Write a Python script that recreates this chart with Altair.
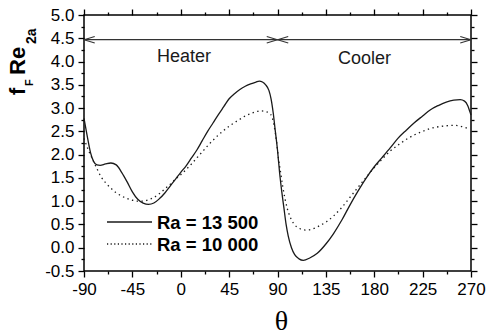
import altair as alt
import pandas as pd

# ---------------- data ----------------
theta_solid = [-90, -87, -84, -81, -78, -75, -70, -65, -60, -55, -50, -45, -40, -35, -30,
               -25, -20, -15, -10, -5, 0, 5, 10, 15, 20, 25, 30, 35, 40, 45, 50, 55, 60,
               65, 70, 73, 76, 79, 82, 84, 86, 88, 90, 92, 94, 96, 98, 100, 103, 106, 110,
               114, 120, 127, 135, 142, 150, 157, 165, 172, 180, 187, 195, 202, 210, 217,
               225, 232, 240, 247, 254, 260, 264, 267, 269, 270]
f_solid = [2.78, 2.4, 2.05, 1.85, 1.78, 1.77, 1.8, 1.82, 1.78, 1.62, 1.42, 1.2, 1.04, 0.96, 0.93,
           0.96, 1.05, 1.17, 1.32, 1.47, 1.62, 1.76, 1.93, 2.1, 2.3, 2.5, 2.68, 2.86, 3.03, 3.2, 3.31, 3.4, 3.47,
           3.52, 3.56, 3.58, 3.56, 3.5, 3.38, 3.2, 2.9, 2.5, 2.1, 1.6, 1.2, 0.85, 0.5, 0.25, 0.0, -0.15, -0.24,
           -0.27, -0.22, -0.12, 0.08, 0.3, 0.6, 0.9, 1.22, 1.48, 1.74, 1.93, 2.15, 2.35, 2.53, 2.68,
           2.83, 2.96, 3.06, 3.13, 3.17, 3.18, 3.15, 3.05, 2.92, 2.85]

theta_dotted = [-90, -86, -82, -78, -74, -70, -65, -60, -55, -50, -45, -40, -35, -30, -25, -20,
                -15, -10, -5, 0, 5, 10, 15, 20, 25, 30, 35, 40, 45, 50, 55, 60, 65, 70, 74, 78,
                82, 85, 87, 89, 91, 93, 95, 97, 99, 102, 105, 110, 116, 122, 128, 135, 142, 150,
                158, 165, 172, 180, 188, 195, 203, 210, 217, 225, 232, 240, 247, 254, 260, 265, 268]
f_dotted = [2.35, 2.1, 1.9, 1.7, 1.52, 1.4, 1.28, 1.18, 1.11, 1.06, 1.02, 1.0, 1.0, 1.03, 1.08, 1.16,
            1.26, 1.36, 1.47, 1.57, 1.68, 1.8, 1.93, 2.06, 2.19, 2.31, 2.42, 2.52, 2.61, 2.69, 2.76, 2.83, 2.88, 2.92, 2.94, 2.93,
            2.9, 2.8, 2.6, 2.3, 1.9, 1.6, 1.3, 1.05, 0.85, 0.65, 0.52, 0.42, 0.38, 0.4, 0.46, 0.55, 0.68, 0.87,
            1.1, 1.3, 1.5, 1.72, 1.92, 2.08, 2.22, 2.33, 2.42, 2.5, 2.56, 2.6, 2.62, 2.63, 2.61, 2.58, 2.55]

x_major = [-90, -45, 0, 45, 90, 135, 180, 225, 270]
x_minor = [-67.5, -22.5, 22.5, 67.5, 112.5, 157.5, 202.5, 247.5]
y_major = [-0.5, 0.0, 0.5, 1.0, 1.5, 2.0, 2.5, 3.0, 3.5, 4.0, 4.5, 5.0]
y_minor = [-0.25, 0.25, 0.75, 1.25, 1.75, 2.25, 2.75, 3.25, 3.75, 4.25, 4.75]

legend_labels = ["Ra = 13 500", "Ra = 10 000"]
region_labels = ["Heater", "Cooler"]
region_theta = [3, 171]
region_f = [4.0, 3.95]

arrow_start = [-90, 90]
arrow_end = [90, 270]
arrow_f = [4.47, 4.47]
head_tip = [-90, 90, 90, 270]
head_wing = [-80, 80, 100, 260]

ytitle_parts = ["f", "F", "Re", "2a"]

# ---------------- chart ----------------
FONT = "Liberation Sans"
INK = "#1a1a1a"
xscale = alt.Scale(domain=[-90, 270], nice=False, zero=False)
yscale = alt.Scale(domain=[-0.5, 5.0], nice=False, zero=False)

df_s = pd.DataFrame({"theta": theta_solid, "f": f_solid})
df_d = pd.DataFrame({"theta": theta_dotted, "f": f_dotted})

xlab = "datum.value < 0 ? '-' + format(-datum.value, 'd') : format(datum.value, 'd')"
ylab = "datum.value < 0 ? '-' + format(-datum.value, '.1f') : format(datum.value, '.1f')"


def tick_axis(orient, values, size, labels=False, expr=None, **kw):
    args = dict(orient=orient, values=values, tickSize=size, tickWidth=1.3,
                tickColor="black", domain=False, grid=False, labels=labels,
                title=None)
    if labels:
        args.update(labelExpr=expr, labelFont=FONT, labelFontSize=17,
                    labelColor="black", labelFlush=False, labelOverlap=False)
    args.update(kw)
    return alt.Axis(**args)


solid = alt.Chart(df_s).mark_line(color=INK, strokeWidth=1.3, interpolate="monotone").encode(
    x=alt.X("theta:Q", scale=xscale,
            axis=tick_axis("bottom", x_major, 6, True, xlab, labelPadding=4,
                           title="θ", titleFont="Liberation Serif", titleFontSize=28,
                           titleFontWeight="normal", titleColor="black", titleX=197,
                           titleY=58, titleBaseline="alphabetic", titleAlign="center")),
    y=alt.Y("f:Q", scale=yscale,
            axis=tick_axis("left", y_major, 6, True, ylab, labelPadding=4)),
)

minor1 = alt.Chart(df_s).mark_point(opacity=0).encode(
    x=alt.X("theta:Q", scale=xscale, axis=tick_axis("bottom", x_minor, 3)),
    y=alt.Y("f:Q", scale=yscale, axis=tick_axis("left", y_minor, 3)),
)
major2 = alt.Chart(df_s).mark_point(opacity=0).encode(
    x=alt.X("theta:Q", scale=xscale, axis=tick_axis("top", x_major, 6)),
    y=alt.Y("f:Q", scale=yscale, axis=tick_axis("right", y_major, 6)),
)
minor2 = alt.Chart(df_s).mark_point(opacity=0).encode(
    x=alt.X("theta:Q", scale=xscale, axis=tick_axis("top", x_minor, 3)),
    y=alt.Y("f:Q", scale=yscale, axis=tick_axis("right", y_minor, 3)),
)

dotted = alt.Chart(df_d).mark_line(color=INK, strokeWidth=1.3, strokeDash=[1.4, 3.4],
                                   interpolate="monotone").encode(
    x=alt.X("theta:Q", scale=xscale, axis=None),
    y=alt.Y("f:Q", scale=yscale, axis=None),
)

df_arrow = pd.DataFrame({"x1": arrow_start, "x2": arrow_end, "y": arrow_f})
arrows = alt.Chart(df_arrow).mark_rule(color="#333333", strokeWidth=1.1).encode(
    x=alt.X("x1:Q", scale=xscale, axis=None), x2="x2:Q",
    y=alt.Y("y:Q", scale=yscale, axis=None),
)
df_heads = pd.DataFrame({
    "tip": head_tip * 2, "wing": head_wing * 2,
    "y": [4.47] * 8, "y2": [4.54] * 4 + [4.40] * 4,
})
heads = alt.Chart(df_heads).mark_rule(color="#333333", strokeWidth=1.1).encode(
    x=alt.X("tip:Q", scale=xscale, axis=None), x2="wing:Q",
    y=alt.Y("y:Q", scale=yscale, axis=None), y2="y2:Q",
)

df_reg = pd.DataFrame({"x": region_theta, "y": region_f, "t": region_labels})
regions = alt.Chart(df_reg).mark_text(font=FONT, fontSize=18, color=INK, align="center",
                                      baseline="alphabetic").encode(
    x=alt.X("x:Q", scale=xscale, axis=None),
    y=alt.Y("y:Q", scale=yscale, axis=None),
    text="t:N",
)

one = alt.Data(values=[{}])
leg_solid = alt.Chart(one).mark_rule(color=INK, strokeWidth=1.3).encode(
    x=alt.value(23), x2=alt.value(68), y=alt.value(207))
leg_dot = alt.Chart(one).mark_rule(color=INK, strokeWidth=1.3, strokeDash=[1.2, 2.4]).encode(
    x=alt.value(23), x2=alt.value(68), y=alt.value(229))
leg_t1 = alt.Chart(one).mark_text(text=legend_labels[0], font=FONT, fontSize=18.5, fontWeight="bold",
                                  color="black", align="left", baseline="middle").encode(
    x=alt.value(73), y=alt.value(208))
leg_t2 = alt.Chart(one).mark_text(text=legend_labels[1], font=FONT, fontSize=18.5, fontWeight="bold",
                                  color="black", align="left", baseline="middle").encode(
    x=alt.value(73), y=alt.value(230))


def ypart(txt, size, x, y):
    return alt.Chart(one).mark_text(text=txt, font=FONT, fontSize=size, fontWeight="bold",
                                    color="black", angle=270, align="left",
                                    baseline="alphabetic").encode(
        x=alt.value(x), y=alt.value(y))


yt = [
    ypart(ytitle_parts[0], 22, -59, 80),
    ypart(ytitle_parts[1], 11, -51, 71),
    ypart(ytitle_parts[2], 22, -59, 60),
    ypart(ytitle_parts[3], 14, -48, 29),
]

chart = alt.layer(
    solid, minor1, major2, minor2, dotted, arrows, heads, regions,
    leg_solid, leg_dot, leg_t1, leg_t2, *yt
).resolve_axis(x="independent", y="independent").properties(
    width=387, height=256,
    padding={"left": 84, "top": 15, "right": 17, "bottom": 65},
    autosize=alt.AutoSizeParams(type="none"),
).configure_view(stroke="black", strokeWidth=1.5)

chart.save("out.html", embed_options={"renderer": "svg", "actions": False})
